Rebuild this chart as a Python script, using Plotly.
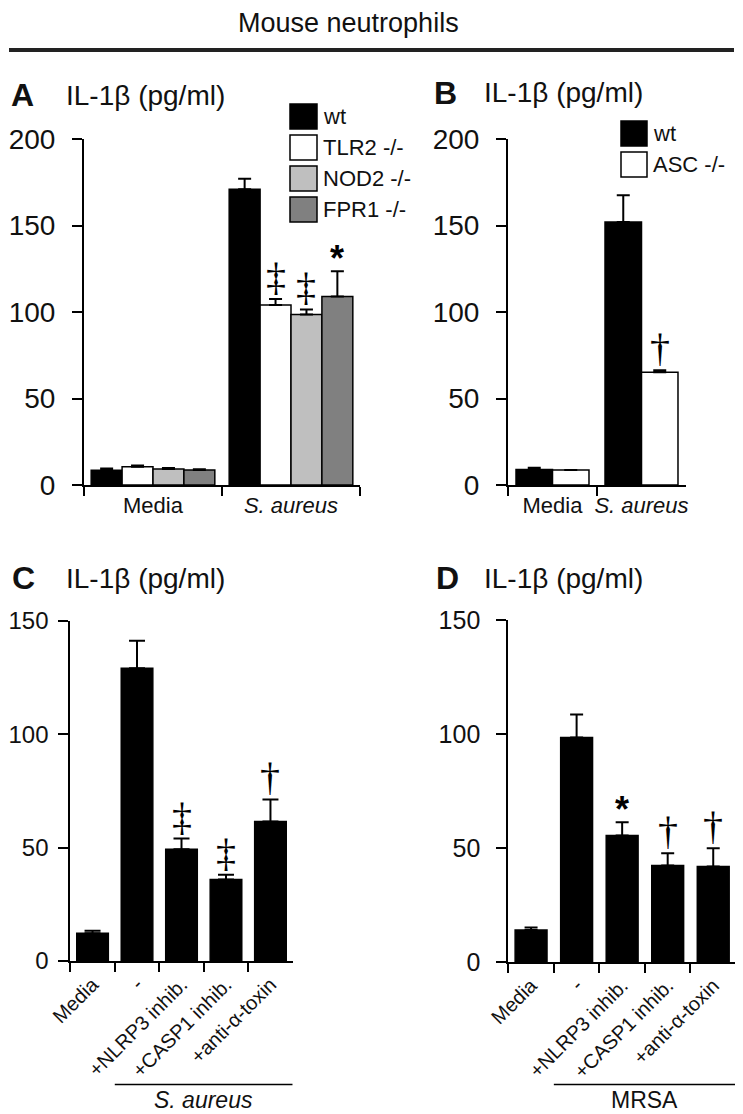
import plotly.graph_objects as go

# page body has an 8px default margin: the figure is drawn 8px in and sized to fit
OFF = 8
W, H = 743 - OFF, 1114 - OFF
FONT = "Liberation Sans, Arial, sans-serif"
SERIF = "Liberation Serif, Times New Roman, serif"
TXT = "#111111"

# ---------------- data ----------------
a_categories = ["Media", "<i>S. aureus</i>"]
a_series = ["wt", "TLR2 -/-", "NOD2 -/-", "FPR1 -/-"]
a_wt = [8.5, 171]
a_wt_err = [1.0, 6.0]
a_tlr2 = [10.5, 104]
a_tlr2_err = [0.8, 3.5]
a_nod2 = [9.2, 98.5]
a_nod2_err = [0.6, 3.0]
a_fpr1 = [8.7, 109]
a_fpr1_err = [0.4, 14.5]
a_marks = [["", ""], ["", "‡"], ["", "‡"], ["", "*"]]

b_categories = ["Media", "<i>S. aureus</i>"]
b_series = ["wt", "ASC -/-"]
b_wt = [9.0, 152]
b_wt_err = [1.0, 15.5]
b_asc = [8.7, 65.2]
b_asc_err = [0.0, 1.2]
b_marks = [["", ""], ["", "†"]]

cd_categories = ["Media", "-", "+NLRP3 inhib.", "+CASP1 inhib.", "+anti-α-toxin"]
c_values = [12.2, 129.1, 49.3, 36.0, 61.5]
c_err = [1.2, 12.2, 4.7, 2.1, 9.8]
c_marks = ["", "", "‡", "‡", "†"]
d_values = [14.0, 98.5, 55.5, 42.4, 41.9]
d_err = [1.1, 10.1, 5.8, 5.3, 8.0]
d_marks = ["", "", "*", "†", "†"]

y_ticks_ab = [0, 50, 100, 150, 200]
y_ticks_cd = [0, 50, 100, 150]

# ---------------- helpers ----------------
def px(x):
    return (x - OFF) / W

def py(y):
    return 1 - (y - OFF) / H

fig = go.Figure()
annotations = []
shapes = []

def add_bars(xa, ya, cats, vals, errs, color, width, offset, name, cap=6.5):
    fig.add_trace(go.Bar(
        x=cats, y=vals, name=name, xaxis=xa, yaxis=ya,
        width=width, offset=offset,
        marker=dict(color=color, line=dict(color="black", width=1.5)),
        error_y=dict(type="data", array=errs, arrayminus=[0] * len(errs),
                     symmetric=False, color="black", thickness=2, width=cap),
        showlegend=False,
    ))

def add_marks(xa, ya, marks, vals, errs, width, offset):
    for i, (m, v, e) in enumerate(zip(marks, vals, errs)):
        if not m:
            continue
        star = m == "*"
        annotations.append(dict(
            x=i + offset + width / 2, y=v + e, xref=xa, yref=ya,
            text="<b>*</b>" if star else m, showarrow=False, yanchor="bottom",
            yshift=-10 if star else -2,
            font=dict(family=FONT if star else SERIF, size=36 if star else 40, color="black"),
        ))

# ---- Panel A ----
a_colors = ["#000000", "#ffffff", "#bfbfbf", "#808080"]
a_vals = [a_wt, a_tlr2, a_nod2, a_fpr1]
a_errs = [a_wt_err, a_tlr2_err, a_nod2_err, a_fpr1_err]
wA = 0.224
for k in range(4):
    off = -0.448 + k * wA
    add_bars("x", "y", a_categories, a_vals[k], a_errs[k], a_colors[k], wA, off, a_series[k])
    add_marks("x", "y", a_marks[k], a_vals[k], a_errs[k], wA, off)

# ---- Panel B ----
b_colors = ["#000000", "#ffffff"]
b_vals = [b_wt, b_asc]
b_errs = [b_wt_err, b_asc_err]
wB = 0.41
for k in range(2):
    off = -0.41 + k * wB
    add_bars("x2", "y2", b_categories, b_vals[k], b_errs[k], b_colors[k], wB, off, b_series[k])
    add_marks("x2", "y2", b_marks[k], b_vals[k], b_errs[k], wB, off)

# ---- Panel C / D ----
wC = 0.71
add_bars("x3", "y3", cd_categories, c_values, c_err, "#000000", wC, -wC / 2, "S. aureus", cap=8)
add_marks("x3", "y3", c_marks, c_values, c_err, wC, -wC / 2)
wD = 0.70
add_bars("x4", "y4", cd_categories, d_values, d_err, "#000000", wD, -wD / 2, "MRSA")
add_marks("x4", "y4", d_marks, d_values, d_err, wD, -wD / 2)

# ---------------- axes ----------------
def xaxis(domain, anchor, n, fsize, angle=0, standoff=0):
    return dict(domain=domain, anchor=anchor, type="category", range=[-0.5, n - 0.5],
                showline=True, linecolor="black", linewidth=2, ticks="outside",
                tickson="boundaries", ticklen=9, tickwidth=2, tickcolor="black",
                showgrid=False, zeroline=False, tickangle=angle, automargin=False,
                ticklabelstandoff=standoff,
                tickfont=dict(family=FONT, size=fsize, color=TXT), fixedrange=True)

def yaxis(domain, anchor, rng, tv, fsize, standoff):
    return dict(domain=domain, anchor=anchor, range=rng, tickvals=tv,
                showline=True, linecolor="black", linewidth=2, ticks="outside",
                ticklen=10, tickwidth=2, tickcolor="black", showgrid=False,
                zeroline=False, ticklabelstandoff=standoff, automargin=False,
                tickfont=dict(family=FONT, size=fsize, color=TXT), fixedrange=True)

layout_axes = dict(
    xaxis=xaxis([px(84), px(360)], "y", 2, 22),
    yaxis=yaxis([py(485), py(139)], "x", [0, 200], y_ticks_ab, 28, 11),
    xaxis2=xaxis([px(508), px(686)], "y2", 2, 22),
    yaxis2=yaxis([py(485), py(139)], "x2", [0, 200], y_ticks_ab, 28, 11),
    xaxis3=xaxis([px(70.3), px(292.7)], "y3", 5, 20, -45, 2),
    yaxis3=yaxis([py(961), py(621)], "x3", [0, 150], y_ticks_cd, 24, 5),
    xaxis4=xaxis([px(508.3), px(736)], "y4", 5, 20, -45, 2),
    yaxis4=yaxis([py(962), py(620.3)], "x4", [0, 150], y_ticks_cd, 25, 11),
)

# ---------------- titles & labels ----------------
def ptext(x, y, text, size, xanchor="left", bold=False, italic=False):
    if bold:
        text = f"<b>{text}</b>"
    if italic:
        text = f"<i>{text}</i>"
    annotations.append(dict(
        x=px(x), y=py(y), xref="paper", yref="paper", text=text,
        showarrow=False, xanchor=xanchor, yanchor="middle",
        font=dict(family=FONT, size=size, color=TXT)))

ptext(348, 23, "Mouse neutrophils", 27, "center")
shapes.append(dict(type="line", xref="paper", yref="paper", x0=px(9), x1=px(734),
                   y0=py(50), y1=py(50), line=dict(color="#222", width=4)))

for letter, lx, tx, ty in [("A", 9, 64, 95), ("B", 432, 482, 93), ("C", 10, 64, 578), ("D", 434, 482, 578)]:
    ptext(lx, ty, letter, 32, "left", bold=True)
    ptext(tx, ty, "IL-1β (pg/ml)", 28, "left")

# manual legends
def legend(x0, y0, names, colors, step, bw, bh):
    for i, (n, c) in enumerate(zip(names, colors)):
        top = y0 + i * step
        shapes.append(dict(type="rect", xref="paper", yref="paper",
                           x0=px(x0), x1=px(x0 + bw), y0=py(top + bh), y1=py(top),
                           fillcolor=c, line=dict(color="black", width=1.5)))
        ptext(x0 + bw + 4, top + bh / 2, n, 22, "left")

legend(290, 104, a_series, a_colors, 31, 27, 25)
legend(621, 121, b_series, b_colors, 31, 26, 25)

# group underline labels
for xa, label, italic in [("x3", "S. aureus", True), ("x4", "MRSA", False)]:
    shapes.append(dict(type="line", xref=xa, yref="paper", x0=0.5, x1=4.5,
                       y0=py(1084.5), y1=py(1084.5), line=dict(color="black", width=1.5)))
    annotations.append(dict(x=2.5, y=py(1100), xref=xa, yref="paper",
                            text=f"<i>{label}</i>" if italic else label,
                            showarrow=False, yanchor="middle",
                            font=dict(family=FONT, size=23, color=TXT)))

fig.update_layout(
    template="none",
    width=W, height=H, margin=dict(l=0, r=0, t=0, b=0, autoexpand=False),
    paper_bgcolor="white", plot_bgcolor="white",
    barmode="overlay", showlegend=False,
    annotations=annotations, shapes=shapes,
    **layout_axes,
)

fig.write_html("out.html")
